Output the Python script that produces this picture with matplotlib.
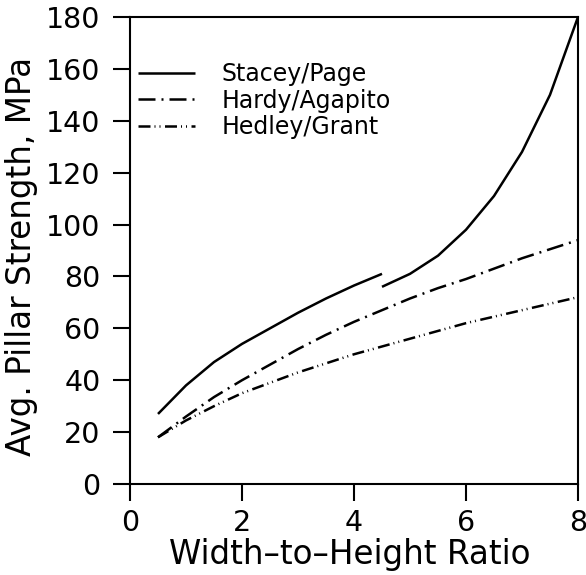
import matplotlib
matplotlib.use("Agg")
import matplotlib.pyplot as plt

# ---- data ----
stacey_x1 = [0.5, 1.0, 1.5, 2.0, 2.5, 3.0, 3.5, 4.0, 4.5]
stacey_y1 = [27, 38, 47, 54, 60, 66, 71.5, 76.5, 81]
stacey_x2 = [4.5, 5.0, 5.5, 6.0, 6.5, 7.0, 7.5, 8.0]
stacey_y2 = [76, 81, 88, 98, 111, 128, 150, 180]

ratio_x = [0.5, 1.0, 1.5, 2.0, 2.5, 3.0, 3.5, 4.0, 4.5, 5.0, 5.5, 6.0, 6.5, 7.0, 7.5, 8.0]
hardy_y = [18, 26, 33.5, 40, 46, 52, 57.5, 62.5, 67, 71.5, 75.5, 79, 83, 87, 90.5, 94]
hedley_y = [18, 24.5, 30, 35, 39, 43, 46.5, 50, 53, 56, 59, 62, 64.5, 67, 69.5, 72]

labels = ["Stacey/Page", "Hardy/Agapito", "Hedley/Grant"]
x_ticks = [0, 2, 4, 6, 8]
y_ticks = list(range(0, 181, 20))

plt.rcParams['font.family'] = ['DejaVu Sans']

fig = plt.figure(figsize=(5.86, 5.75), dpi=100)
ax = fig.add_axes([130/586, 1-484/575, 448/586, 467/575])

lw = 1.8
ax.plot(stacey_x1, stacey_y1, color='black', lw=lw, label=labels[0], solid_capstyle='butt')
ax.plot(stacey_x2, stacey_y2, color='black', lw=lw, solid_capstyle='butt')
l2, = ax.plot(ratio_x, hardy_y, color='black', lw=lw, label=labels[1])
l2.set_dashes([6.8, 2.4, 0.8, 2.4])
l3, = ax.plot(ratio_x, hedley_y, color='black', lw=lw, label=labels[2])
l3.set_dashes([4.8, 1.6, 0.4, 1.6, 0.4, 1.8])

ax.set_xlim(0, 8)
ax.set_ylim(0, 180)
ax.set_xticks(x_ticks)
ax.set_yticks(y_ticks)
ax.tick_params(direction='out', length=12.2, width=1.5, labelsize=20.5, colors='black')
ax.tick_params(axis='x', pad=6)
ax.tick_params(axis='y', pad=9)
for s in ax.spines.values():
    s.set_linewidth(1.5)

ax.set_xlabel("Width\u2013to\u2013Height Ratio", fontsize=23.5, labelpad=4)
ax.set_ylabel("Avg. Pillar Strength, MPa", fontsize=23.5, labelpad=6)
ax.yaxis.set_label_coords(-0.205, 0.488)
ax.xaxis.set_label_coords(0.49, -0.115)

leg = ax.legend(loc='center left', bbox_to_anchor=(0.018, 0.821), frameon=False,
                fontsize=17, handlelength=2.41, handletextpad=1.14,
                labelspacing=0.1, borderpad=0, borderaxespad=0)

fig.savefig("out.png", dpi=100)
